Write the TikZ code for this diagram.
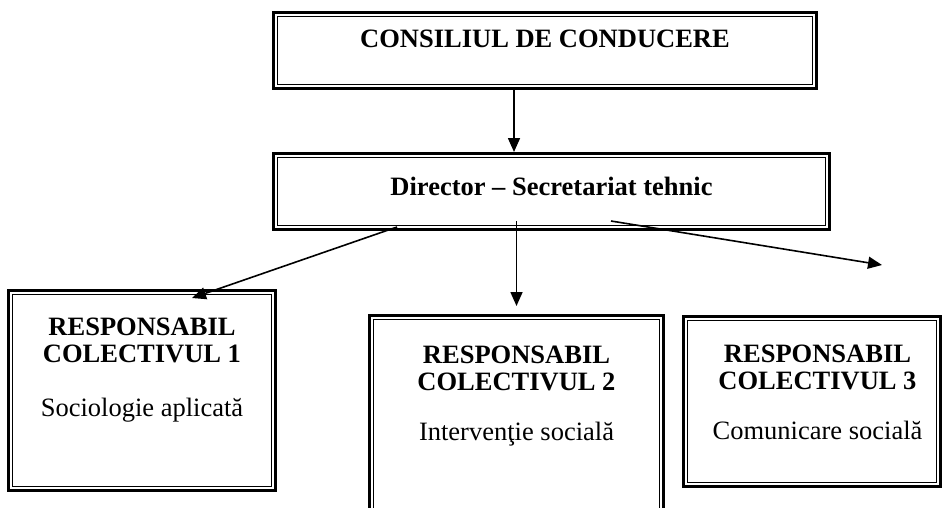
\documentclass[tikz,border=0pt]{standalone}
\usepackage{fontspec}
\setmainfont{Liberation Serif}
\usetikzlibrary{positioning,arrows.meta}

\tikzset{
  framebox/.style={draw, line width=3pt, inner sep=0pt,
    append after command={\pgfextra{\draw[line width=1.5pt]
      ([shift={(5.6pt,-5.6pt)}]\tikzlastnode.north west) rectangle
      ([shift={(-5.6pt,5.6pt)}]\tikzlastnode.south east);}}},
  headtxt/.style={font=\fontsize{26.5}{27.5}\selectfont\bfseries, align=center, inner sep=0pt},
  subtxt/.style={font=\fontsize{26.5}{27.5}\selectfont, inner sep=0pt},
  arr/.style={-{Triangle[length=14pt,width=12pt]}, line width=1.6pt}
}

\begin{document}
\begin{tikzpicture}[x=1pt, y=-1pt]
  \useasboundingbox (0,0) rectangle (944,508);

  \node[framebox, minimum width=543pt, minimum height=76pt] (top) at (545,50.5) {};
  \node[framebox, minimum width=556pt, minimum height=76pt] (dir) at (551.5,191.5) {};
  \node[framebox, minimum width=267pt, minimum height=200pt] (b1) at (142,390.5) {};
  \node[framebox, minimum width=294pt, minimum height=213pt] (b2) at (516.5,422) {};
  \node[framebox, minimum width=257pt, minimum height=170pt] (b3) at (812,401.5) {};

  \node[headtxt, below=18.5pt of top.north] (toptxt) {CONSILIUL DE CONDUCERE};
  \node[headtxt, below=24.5pt of dir.north] (dirtxt) {Director -- Secretariat tehnic};

  \node[headtxt, below=28.5pt of b1.north] (h1) {RESPONSABIL\\COLECTIVUL 1};
  \node[subtxt, anchor=base] (s1) at ([yshift=-127pt]b1.north) {Sociologie aplicată};
  \node[headtxt, below=31.6pt of b2.north] (h2) {RESPONSABIL\\COLECTIVUL 2};
  \node[subtxt, anchor=base] (s2) at ([yshift=-126pt]b2.north) {Intervenţie socială};
  \node[headtxt, below=29.6pt of {[xshift=5.5pt]b3.north}] (h3) {RESPONSABIL\\COLECTIVUL 3};
  \node[subtxt, anchor=base] (s3) at ([xshift=5.5pt,yshift=-124pt]b3.north) {Comunicare socială};

  \coordinate (tip3) at (882,265);

  \draw[arr] ([xshift=-31pt]top.south) -- ([xshift=-37.5pt]dir.north);
  \draw[arr] ([xshift=-154.5pt,yshift=4pt]dir.south) -- ([xshift=50pt,yshift=-9pt]b1.north);
  \draw[arr] ([xshift=-35pt,yshift=10pt]dir.south) -- ([yshift=8pt]b2.north);
  \draw[arr] ([xshift=59.5pt,yshift=10pt]dir.south) -- (tip3);
\end{tikzpicture}
\end{document}
